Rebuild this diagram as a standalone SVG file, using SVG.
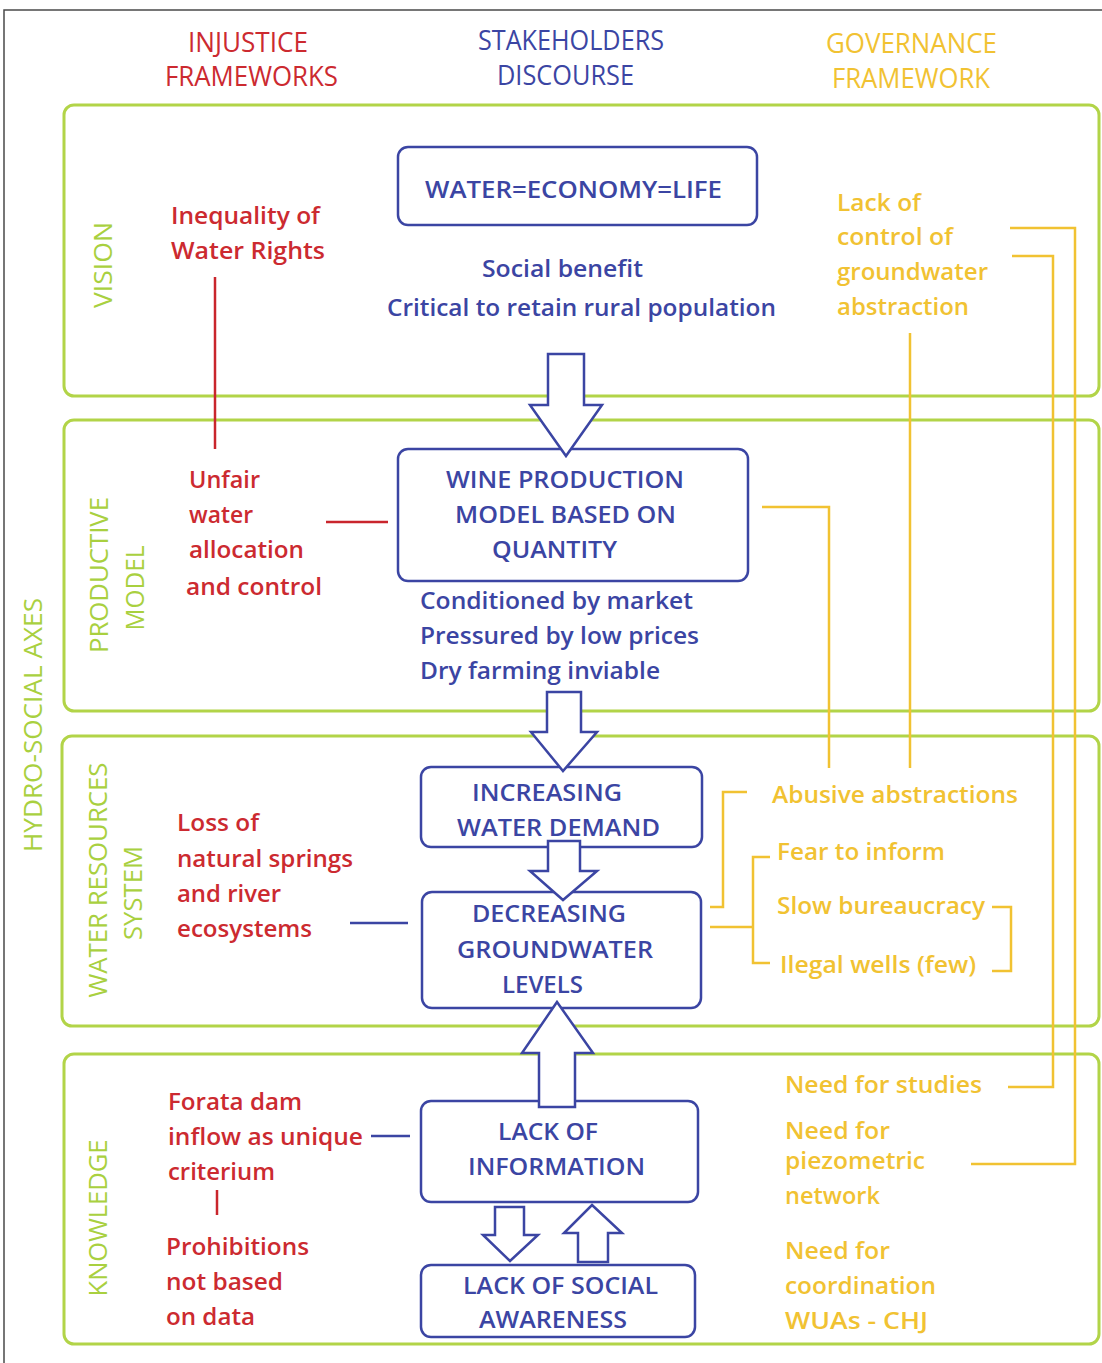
<svg xmlns="http://www.w3.org/2000/svg" width="1102" height="1363" viewBox="0 0 1102 1363">
<style>
.frame{fill:none;stroke:#4a4a4a;stroke-width:1.5}
.panel{fill:none;stroke:#b2d448;stroke-width:3}
.box{fill:#fff;stroke:#3b45a3;stroke-width:2.5}
.arrow{fill:#fff;stroke:#3b45a3;stroke-width:2.5;stroke-linejoin:miter}
.yl{fill:none;stroke:#f1c232;stroke-width:2.5}
.rl{fill:none;stroke:#c9252c;stroke-width:2.5}
.bl{fill:none;stroke:#3b45a3;stroke-width:2.5}
text{font-family:"Open Sans","Noto Sans","Liberation Sans",sans-serif;font-size:24px;font-weight:600}
.hd{font-family:"Open Sans","Liberation Sans",sans-serif;font-size:27px;font-weight:400}
.gl{fill:#a9d03f;font-weight:400;font-size:25px}
.r{fill:#cc2a30}
.b{fill:#3b45a3}
.y{fill:#f1c232}
</style>
<rect width="1102" height="1363" fill="#fff"/>
<path class="frame" d="M4,1363 V10 H1102"/>

<g id="headers">
<text class="hd r" x="188" y="52" textLength="120" lengthAdjust="spacingAndGlyphs">INJUSTICE</text>
<text class="hd r" x="165" y="86" textLength="173" lengthAdjust="spacingAndGlyphs">FRAMEWORKS</text>
<text class="hd b" x="478" y="50" textLength="186" lengthAdjust="spacingAndGlyphs">STAKEHOLDERS</text>
<text class="hd b" x="497" y="85" textLength="137" lengthAdjust="spacingAndGlyphs">DISCOURSE</text>
<text class="hd y" x="826" y="53" textLength="171" lengthAdjust="spacingAndGlyphs">GOVERNANCE</text>
<text class="hd y" x="832" y="88" textLength="158" lengthAdjust="spacingAndGlyphs">FRAMEWORK</text>
</g>

<g id="panels">
<g id="panel-vision">
<rect class="panel" x="64" y="105" width="1035" height="291" rx="10"/>
<text class="gl" transform="translate(112,265) rotate(-90)" text-anchor="middle" textLength="86" lengthAdjust="spacingAndGlyphs">VISION</text>
</g>
<g id="panel-productive">
<rect class="panel" x="64" y="420" width="1035" height="291" rx="10"/>
<text class="gl" transform="translate(108,575) rotate(-90)" text-anchor="middle" textLength="156" lengthAdjust="spacingAndGlyphs">PRODUCTIVE</text>
<text class="gl" transform="translate(144,588) rotate(-90)" text-anchor="middle" textLength="85" lengthAdjust="spacingAndGlyphs">MODEL</text>
</g>
<g id="panel-water">
<rect class="panel" x="62" y="736" width="1037" height="290" rx="10"/>
<text class="gl" transform="translate(107,880) rotate(-90)" text-anchor="middle" textLength="235" lengthAdjust="spacingAndGlyphs">WATER RESOURCES</text>
<text class="gl" transform="translate(142,893) rotate(-90)" text-anchor="middle" textLength="94" lengthAdjust="spacingAndGlyphs">SYSTEM</text>
</g>
<g id="panel-knowledge">
<rect class="panel" x="64" y="1054" width="1035" height="290" rx="10"/>
<text class="gl" transform="translate(107,1218) rotate(-90)" text-anchor="middle" textLength="157" lengthAdjust="spacingAndGlyphs">KNOWLEDGE</text>
</g>
<g id="axis-label">
<text class="gl" transform="translate(42,725) rotate(-90)" text-anchor="middle" textLength="254" lengthAdjust="spacingAndGlyphs">HYDRO-SOCIAL AXES</text>
</g>
</g>

<g id="node-water-economy-life">
<rect class="box" x="398" y="147" width="359" height="78" rx="10"/>
<text class="b" x="425" y="198" textLength="297" lengthAdjust="spacingAndGlyphs">WATER=ECONOMY=LIFE</text>
</g>
<g id="node-vision-text">
<text class="b" x="482" y="277" textLength="161" lengthAdjust="spacingAndGlyphs">Social benefit</text>
<text class="b" x="387" y="316" textLength="389" lengthAdjust="spacingAndGlyphs">Critical to retain rural population</text>
</g>
<g id="node-wine">
<rect class="box" x="398" y="449" width="350" height="132" rx="10"/>
<text class="b" x="446" y="488" textLength="238" lengthAdjust="spacingAndGlyphs">WINE PRODUCTION</text>
<text class="b" x="455" y="523" textLength="221" lengthAdjust="spacingAndGlyphs">MODEL BASED ON</text>
<text class="b" x="492" y="558" textLength="125" lengthAdjust="spacingAndGlyphs">QUANTITY</text>
</g>
<g id="node-market">
<text class="b" x="420" y="609" textLength="273" lengthAdjust="spacingAndGlyphs">Conditioned by market</text>
<text class="b" x="420" y="644" textLength="279" lengthAdjust="spacingAndGlyphs">Pressured by low prices</text>
<text class="b" x="420" y="679" textLength="240" lengthAdjust="spacingAndGlyphs">Dry farming inviable</text>
</g>
<g id="node-increasing">
<rect class="box" x="421" y="767" width="281" height="80" rx="10"/>
<text class="b" x="472" y="801" textLength="150" lengthAdjust="spacingAndGlyphs">INCREASING</text>
<text class="b" x="457" y="836" textLength="203" lengthAdjust="spacingAndGlyphs">WATER DEMAND</text>
</g>
<g id="node-decreasing">
<rect class="box" x="422" y="892" width="279" height="116" rx="10"/>
<text class="b" x="472" y="922" textLength="154" lengthAdjust="spacingAndGlyphs">DECREASING</text>
<text class="b" x="457" y="958" textLength="196" lengthAdjust="spacingAndGlyphs">GROUNDWATER</text>
<text class="b" x="502" y="993" textLength="81" lengthAdjust="spacingAndGlyphs">LEVELS</text>
</g>
<g id="node-lack-info">
<rect class="box" x="421" y="1101" width="277" height="101" rx="10"/>
<text class="b" x="498" y="1140" textLength="100" lengthAdjust="spacingAndGlyphs">LACK OF</text>
<text class="b" x="468" y="1175" textLength="177" lengthAdjust="spacingAndGlyphs">INFORMATION</text>
</g>
<g id="node-lack-social">
<rect class="box" x="421" y="1265" width="274" height="72" rx="10"/>
<text class="b" x="463" y="1294" textLength="195" lengthAdjust="spacingAndGlyphs">LACK OF SOCIAL</text>
<text class="b" x="479" y="1328" textLength="148" lengthAdjust="spacingAndGlyphs">AWARENESS</text>
</g>

<g id="node-inequality">
<text class="r" x="171" y="224" textLength="149" lengthAdjust="spacingAndGlyphs">Inequality of</text>
<text class="r" x="171" y="259" textLength="154" lengthAdjust="spacingAndGlyphs">Water Rights</text>
</g>
<g id="node-unfair">
<text class="r" x="189" y="488" textLength="71" lengthAdjust="spacingAndGlyphs">Unfair</text>
<text class="r" x="189" y="523" textLength="64" lengthAdjust="spacingAndGlyphs">water</text>
<text class="r" x="189" y="558" textLength="115" lengthAdjust="spacingAndGlyphs">allocation</text>
<text class="r" x="186" y="595" textLength="136" lengthAdjust="spacingAndGlyphs">and control</text>
</g>
<g id="node-loss">
<text class="r" x="177" y="831" textLength="82" lengthAdjust="spacingAndGlyphs">Loss of</text>
<text class="r" x="177" y="867" textLength="176" lengthAdjust="spacingAndGlyphs">natural springs</text>
<text class="r" x="177" y="902" textLength="104" lengthAdjust="spacingAndGlyphs">and river</text>
<text class="r" x="177" y="937" textLength="135" lengthAdjust="spacingAndGlyphs">ecosystems</text>
</g>
<g id="node-forata">
<text class="r" x="168" y="1110" textLength="134" lengthAdjust="spacingAndGlyphs">Forata dam</text>
<text class="r" x="168" y="1145" textLength="195" lengthAdjust="spacingAndGlyphs">inflow as unique</text>
<text class="r" x="168" y="1180" textLength="107" lengthAdjust="spacingAndGlyphs">criterium</text>
</g>
<g id="node-prohibitions">
<text class="r" x="166" y="1255" textLength="143" lengthAdjust="spacingAndGlyphs">Prohibitions</text>
<text class="r" x="166" y="1290" textLength="117" lengthAdjust="spacingAndGlyphs">not based</text>
<text class="r" x="166" y="1325" textLength="89" lengthAdjust="spacingAndGlyphs">on data</text>
</g>

<g id="node-lack-control">
<text class="y" x="837" y="211" textLength="84" lengthAdjust="spacingAndGlyphs">Lack of</text>
<text class="y" x="837" y="245" textLength="116" lengthAdjust="spacingAndGlyphs">control of</text>
<text class="y" x="837" y="280" textLength="151" lengthAdjust="spacingAndGlyphs">groundwater</text>
<text class="y" x="837" y="315" textLength="132" lengthAdjust="spacingAndGlyphs">abstraction</text>
</g>
<g id="node-abusive">
<text class="y" x="772" y="803" textLength="246" lengthAdjust="spacingAndGlyphs">Abusive abstractions</text>
</g>
<g id="node-fear">
<text class="y" x="777" y="860" textLength="168" lengthAdjust="spacingAndGlyphs">Fear to inform</text>
</g>
<g id="node-slow">
<text class="y" x="777" y="914" textLength="208" lengthAdjust="spacingAndGlyphs">Slow bureaucracy</text>
</g>
<g id="node-ilegal">
<text class="y" x="780" y="973" textLength="196" lengthAdjust="spacingAndGlyphs">Ilegal wells (few)</text>
</g>
<g id="node-studies">
<text class="y" x="785" y="1093" textLength="197" lengthAdjust="spacingAndGlyphs">Need for studies</text>
</g>
<g id="node-piezometric">
<text class="y" x="785" y="1139" textLength="105" lengthAdjust="spacingAndGlyphs">Need for</text>
<text class="y" x="785" y="1169" textLength="140" lengthAdjust="spacingAndGlyphs">piezometric</text>
<text class="y" x="785" y="1204" textLength="95" lengthAdjust="spacingAndGlyphs">network</text>
</g>
<g id="node-coordination">
<text class="y" x="785" y="1259" textLength="105" lengthAdjust="spacingAndGlyphs">Need for</text>
<text class="y" x="785" y="1294" textLength="151" lengthAdjust="spacingAndGlyphs">coordination</text>
<text class="y" x="785" y="1329" textLength="143" lengthAdjust="spacingAndGlyphs">WUAs - CHJ</text>
</g>

<g id="connectors">
<path class="rl" d="M215,277 V449"/>
<path class="rl" d="M326,522 H388"/>
<path class="rl" d="M217,1190 V1215"/>
<path class="bl" d="M350,923 H408"/>
<path class="bl" d="M371,1136 H410"/>
<path class="yl" d="M910,333 V768"/>
<path class="yl" d="M762,507 H829 V768"/>
<path class="yl" d="M1010,228 H1075 V1164 H971"/>
<path class="yl" d="M1012,256 H1053 V1087 H1008"/>
<path class="yl" d="M747,792 H723 V907 H710"/>
<path class="yl" d="M710,927 H753"/>
<path class="yl" d="M770,857 H753 V963 H770"/>
<path class="yl" d="M992,907 H1011 V971 H992"/>
<polygon class="arrow" points="548,354 584,354 584,405 602,405 566,456 530,405 548,405"/>
<polygon class="arrow" points="547,692 581,692 581,732 597,732 563,771 531,732 547,732"/>
<polygon class="arrow" points="548,841 580,841 580,871 597,871 563,900 530,871 548,871"/>
<polygon class="arrow" points="557,1002 593,1053 575,1053 575,1107 539,1107 539,1053 522,1053"/>
<polygon class="arrow" points="495,1207 524,1207 524,1235 538,1235 510,1261 483,1235 495,1235"/>
<polygon class="arrow" points="592,1205 622,1233 608,1233 608,1262 578,1262 578,1233 564,1233"/>
</g>
</svg>
